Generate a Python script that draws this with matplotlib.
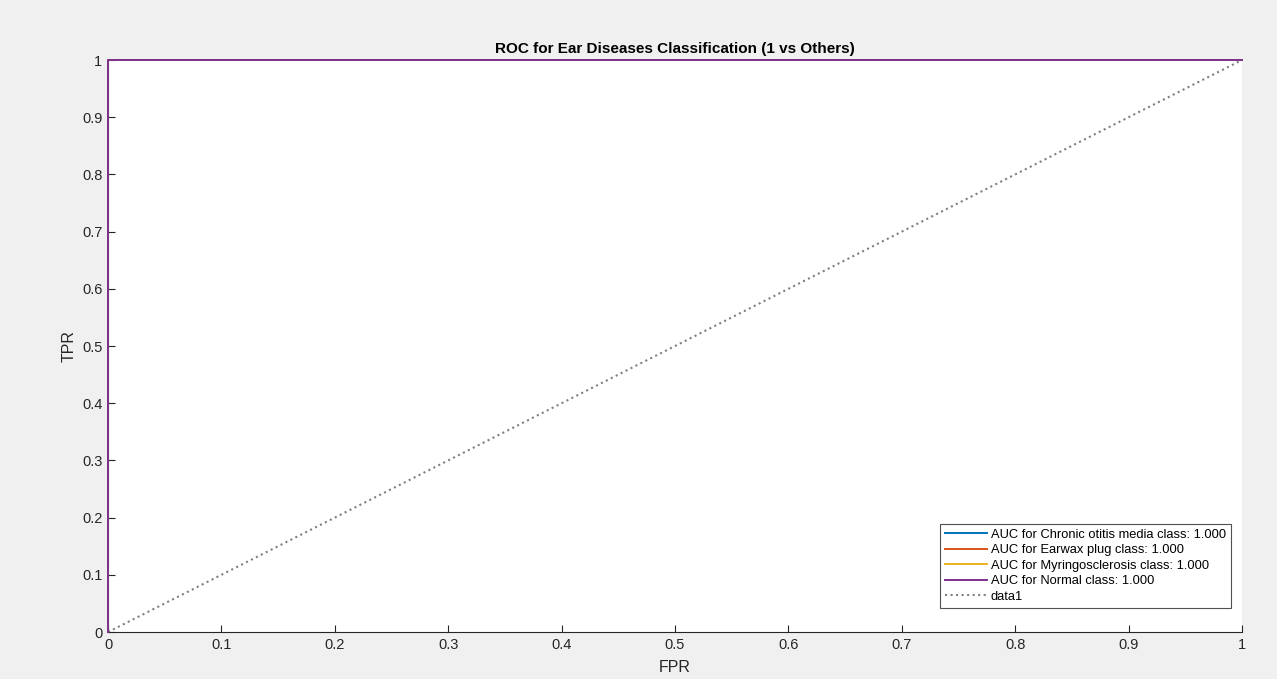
"""ROC curves for ear disease classification (one vs others), MATLAB-style look."""

import matplotlib

matplotlib.use("Agg")
import matplotlib.pyplot as plt
import numpy as np

# ROC points per class (FPR, TPR) - every class is a perfect classifier
CLASSES = ["Chronic otitis media", "Earwax plug", "Myringosclerosis", "Normal"]
AUCS = [1.000, 1.000, 1.000, 1.000]
FPR = [0.0, 0.0, 1.0]
TPR = [0.0, 1.0, 1.0]
CHANCE_X = [0.0, 1.0]
CHANCE_Y = [0.0, 1.0]
TICKS = np.round(np.arange(0, 1.01, 0.1), 1)
TICK_LABELS = ["0"] + [f"{t:g}" for t in TICKS[1:-1]] + ["1"]

COLORS = ["#0072BD", "#D95319", "#EDB120", "#7E2F8E"]
BG = "#f0f0f0"

plt.rcParams["font.family"] = ["Liberation Sans", "DejaVu Sans"]

fig = plt.figure(figsize=(12.77, 6.79), dpi=100, facecolor=BG)
ax = fig.add_axes([0.0846, 0.0692, 0.888, 0.8424])

for name, auc, color in zip(CLASSES, AUCS, COLORS):
    ax.plot(FPR, TPR, color=color, linewidth=1.4, clip_on=False, zorder=3,
            label=f"AUC for {name} class: {auc:.3f}")
ax.plot(CHANCE_X, CHANCE_Y, color="0.5", linestyle=":", linewidth=1.5, label="data1")

ax.set_xlim(0, 1)
ax.set_ylim(0, 1)
ax.set_xticks(TICKS)
ax.set_xticklabels(TICK_LABELS)
ax.set_yticks(TICKS)
ax.set_yticklabels(TICK_LABELS)
ax.tick_params(direction="in", length=5, width=0.8, colors="0.15", labelsize=10.5, pad=4)
for side in ("top", "right"):
    ax.spines[side].set_visible(False)
for side in ("left", "bottom"):
    ax.spines[side].set_color("0.15")
    ax.spines[side].set_linewidth(0.8)

ax.set_xlabel("FPR", fontsize=11.5, color="0.15", labelpad=6)
ax.set_ylabel("TPR", fontsize=11.5, color="0.15", labelpad=4)
ax.set_title("ROC for Ear Diseases Classification (1 vs Others)", fontsize=11,
             fontweight="bold", pad=5)

leg = ax.legend(loc="lower right", bbox_to_anchor=(1231 / 1277, 1 - 608 / 679),
                bbox_transform=fig.transFigure, borderaxespad=0,
                fontsize=9.3, frameon=True, fancybox=False,
                handlelength=3.2, handletextpad=0.3, labelspacing=0.27, borderpad=0.4)
leg.get_frame().set_edgecolor("0.15")
leg.get_frame().set_linewidth(0.8)

fig.savefig("out.png", dpi=100, facecolor=BG)
